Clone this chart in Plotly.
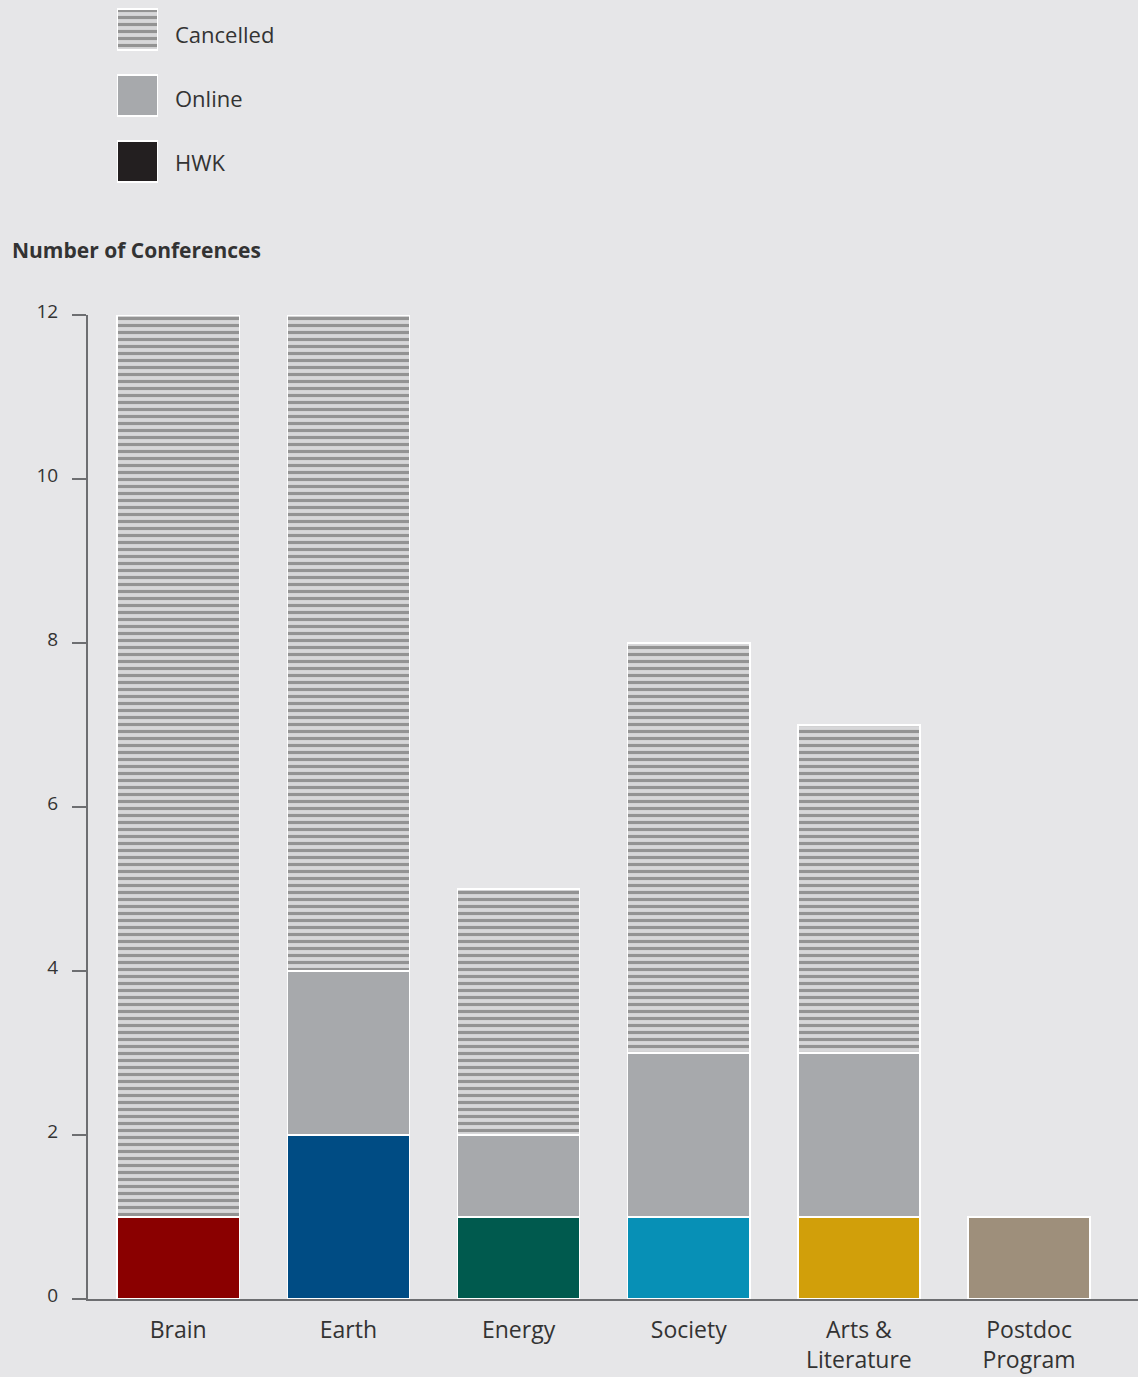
import plotly.graph_objects as go

W, H = 1138, 1377

categories = ["Brain", "Earth", "Energy", "Society", "Arts &<br>Literature", "Postdoc<br>Program"]
hwk = [1, 2, 1, 1, 1, 1]
online = [0, 2, 1, 2, 2, 0]
cancelled = [11, 8, 3, 5, 4, 0]
hwk_colors = ["#8a0000", "#004c84", "#005a4e", "#0790b6", "#d19f0a", "#9e8f7b"]
yticks = [0, 2, 4, 6, 8, 10, 12]

legend_labels = ["Cancelled", "Online", "HWK"]

BG = "#e6e6e8"
ONLINE = "#a7a9ac"
STRIPE_FG = "#939393"
STRIPE_BG = "#d7d7d9"
AXIS = "#6d6e71"
TEXT = "#333333"
FONT = "Open Sans"

fig = go.Figure()

line = dict(color="white", width=1.5)
fig.add_bar(x=categories, y=hwk, marker=dict(color=hwk_colors, line=line), width=0.718, showlegend=False)
fig.add_bar(x=categories, y=online, marker=dict(color=ONLINE, line=line), width=0.718, showlegend=False)
fig.add_bar(x=categories, y=cancelled,
            marker=dict(color=STRIPE_BG, line=line,
                        pattern=dict(shape="-", bgcolor=STRIPE_BG, fgcolor=STRIPE_FG, size=7, solidity=0.45, fillmode="replace")),
            width=0.718, showlegend=False)

# legend swatches drawn as bars on an auxiliary axis
fig.add_bar(x=[1], y=[0], orientation="h", width=0.621, xaxis="x2", yaxis="y2", showlegend=False,
            marker=dict(color=STRIPE_BG, line=line,
                        pattern=dict(shape="-", bgcolor=STRIPE_BG, fgcolor=STRIPE_FG, size=7, solidity=0.45, fillmode="replace")))
fig.add_bar(x=[1], y=[1], orientation="h", width=0.621, xaxis="x2", yaxis="y2", showlegend=False,
            marker=dict(color=ONLINE, line=line))
fig.add_bar(x=[1], y=[2], orientation="h", width=0.621, xaxis="x2", yaxis="y2", showlegend=False,
            marker=dict(color="#231f20", line=line))

annotations = []
for i, lab in enumerate(legend_labels):
    annotations.append(dict(text=lab, x=173 / W, y=1 - (34 + 64 * i) / H, xref="paper", yref="paper",
                            xanchor="left", yanchor="middle", showarrow=False,
                            font=dict(family=FONT, size=22, color=TEXT)))
annotations.append(dict(text="<b>Number of Conferences</b>", x=10 / W, y=1 - 250 / H, xref="paper", yref="paper",
                        xanchor="left", yanchor="middle", showarrow=False,
                        font=dict(family=FONT, size=21, color=TEXT)))

fig.update_layout(
    width=W, height=H, autosize=False,
    margin=dict(l=0, r=0, t=0, b=0, autoexpand=False),
    paper_bgcolor=BG, plot_bgcolor=BG,
    barmode="stack",
    font=dict(family=FONT, color=TEXT),
    annotations=annotations,
    xaxis=dict(type="category", domain=[88 / W, 1], range=[-0.53, 5.64], automargin=False,
               showline=True, linecolor=AXIS, linewidth=2, ticks="", showgrid=False, zeroline=False,
               tickfont=dict(family=FONT, size=23, color=TEXT), ticklabelstandoff=9),
    yaxis=dict(domain=[78 / H, 1062 / H], range=[0, 12], tickvals=yticks, automargin=False,
               showline=True, linecolor=AXIS, linewidth=2, ticks="outside", ticklen=14, tickwidth=2,
               tickcolor=AXIS, showgrid=False, zeroline=False,
               tickfont=dict(family=FONT, size=19, color=TEXT), ticklabelstandoff=10, ticklabelshift=-4),
    xaxis2=dict(domain=[117 / W, 158 / W], range=[0, 1], visible=False, anchor="y2", automargin=False),
    yaxis2=dict(domain=[1 - 198 / H, 1], range=[2.553, -0.447], visible=False, anchor="x2", automargin=False),
)

fig.write_html("out.html", config={"displayModeBar": False, "responsive": False},
               post_script="document.body.style.margin='0px';document.body.style.overflow='hidden';")
